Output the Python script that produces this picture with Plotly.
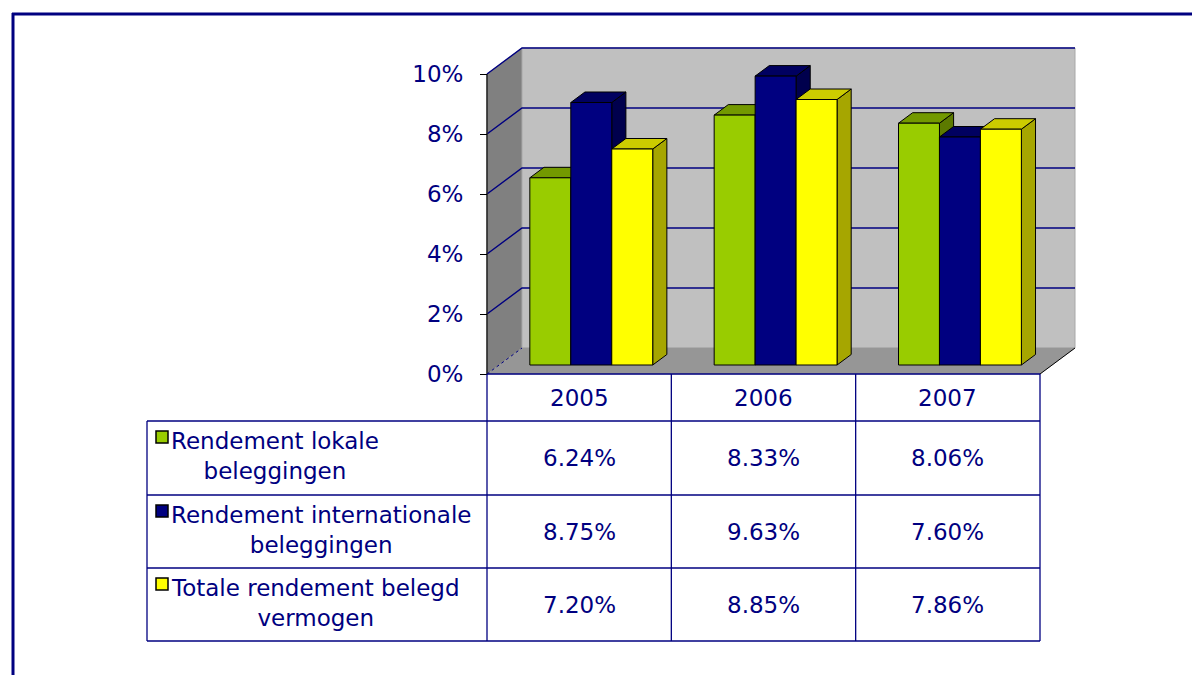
import plotly.graph_objects as go

# ---------------- data ----------------
categories = ["2005", "2006", "2007"]
series_labels = [
    "Rendement lokale<br>beleggingen",
    "Rendement internationale<br>beleggingen",
    "Totale rendement belegd<br>vermogen",
]
lokale = [6.24, 8.33, 8.06]
internationale = [8.75, 9.63, 7.60]
totale = [7.20, 8.85, 7.86]
tick_values = [0, 2, 4, 6, 8, 10]
tick_labels = ["0%", "2%", "4%", "6%", "8%", "10%"]

series_values = [lokale, internationale, totale]

# ---------------- styling / geometry ----------------
W, H = 1192, 675
X0PX, X3PX = 487, 1040      # front floor edge (pixels)
Y0PX = 374                   # 0% level (pixels)
PXY = 30.0                   # pixels per percent
CATPX = (X3PX - X0PX) / 3.0  # pixels per category
YMAX = 10

DX = 35.0 / CATPX            # depth offset, x units
DY = 26.0 / PXY              # depth offset, y units
F0, F1 = 0.346, 0.75         # bar depth span (fraction of floor depth)
GAP = 1.5
BW = 1.0 / (3 + GAP)

NAVY = "#000080"
FONT = "DejaVu Sans"
FS = 23
front_col = ["#99CC00", "#000080", "#FFFF00"]
top_col = ["#739900", "#000060", "#CCCC00"]
side_col = ["#5C7A00", "#00004D", "#A6A600"]


def px(xp):
    return xp / W


def py(yp):
    return 1 - yp / H


def poly(xs, ys, fill, lc="black", lw=1.0):
    return go.Scatter(
        x=list(xs) + [xs[0]], y=list(ys) + [ys[0]], mode="lines",
        fill="toself", fillcolor=fill, line=dict(color=lc, width=lw),
        hoverinfo="skip", showlegend=False)


traces = []
# walls and floor
traces.append(poly([0, DX, DX, 0], [0, DY, YMAX + DY, YMAX], "#808080", "#808080", 0.5))
traces.append(poly([DX, 3 + DX, 3 + DX, DX], [DY, DY, YMAX + DY, YMAX + DY], "#C0C0C0", "#A8A8A8", 1))
traces.append(poly([0, 3, 3 + DX, DX], [0, 0, DY, DY], "#969696", "#969696", 0.5))
# floor right edge
traces.append(go.Scatter(x=[3, 3 + DX], y=[0, DY], mode="lines",
                         line=dict(color="black", width=1), hoverinfo="skip", showlegend=False))

# gridlines
gx, gy = [], []
for v in tick_values[1:]:
    gx += [0, DX, 3 + DX, None]
    gy += [v, v + DY, v + DY, None]
traces.append(go.Scatter(x=gx, y=gy, mode="lines", line=dict(color=NAVY, width=1.5),
                         hoverinfo="skip", showlegend=False))
traces.append(go.Scatter(x=[0, DX], y=[0, DY], mode="lines",
                         line=dict(color=NAVY, width=1, dash="dot"),
                         hoverinfo="skip", showlegend=False))
# value axis line
traces.append(go.Scatter(x=[0, 0], y=[0, YMAX], mode="lines",
                         line=dict(color="#202020", width=1.5), hoverinfo="skip", showlegend=False))

# 3D bars
ddx = (F1 - F0) * DX
ddy = (F1 - F0) * DY
for i in range(len(categories)):
    for j, vals in enumerate(series_values):
        v = vals[i]
        x0 = i + 0.75 * BW + j * BW + F0 * DX
        x1 = x0 + BW
        y0 = F0 * DY
        y1 = v + F0 * DY
        traces.append(poly([x1, x1 + ddx, x1 + ddx, x1], [y0, y0 + ddy, y1 + ddy, y1], side_col[j]))
        traces.append(poly([x0, x1, x1 + ddx, x0 + ddx], [y1, y1, y1 + ddy, y1 + ddy], top_col[j]))
        traces.append(poly([x0, x1, x1, x0], [y0, y0, y1, y1], front_col[j]))

fig = go.Figure(traces)

# ---------------- data table ----------------
row_edges = [421, 495, 568, 641]
header_top = 374
left_px = 147
col_px = [X0PX + k * CATPX for k in range(4)]
shapes = []
line = dict(color=NAVY, width=1.3)
# header
shapes.append(dict(type="line", xref="paper", yref="paper", x0=px(X0PX), x1=px(X3PX),
                   y0=py(header_top), y1=py(header_top), line=line))
for yv in row_edges:
    shapes.append(dict(type="line", xref="paper", yref="paper", x0=px(left_px), x1=px(X3PX),
                       y0=py(yv), y1=py(yv), line=line))
for xv in col_px:
    shapes.append(dict(type="line", xref="paper", yref="paper", x0=px(xv), x1=px(xv),
                       y0=py(header_top), y1=py(row_edges[-1]), line=line))
shapes.append(dict(type="line", xref="paper", yref="paper", x0=px(left_px), x1=px(left_px),
                   y0=py(row_edges[0]), y1=py(row_edges[-1]), line=line))

# legend keys
for j in range(3):
    ktop = row_edges[j] + 10
    shapes.append(dict(type="rect", xref="paper", yref="paper", x0=px(156), x1=px(168),
                       y0=py(ktop), y1=py(ktop + 12), fillcolor=front_col[j],
                       line=dict(color="black", width=1.5)))

# outer frame
shapes.append(dict(type="line", xref="paper", yref="paper", x0=px(12), x1=1,
                   y0=py(14), y1=py(14), line=dict(color=NAVY, width=3)))
shapes.append(dict(type="line", xref="paper", yref="paper", x0=px(13), x1=px(13),
                   y0=py(13), y1=0, line=dict(color=NAVY, width=3)))

annotations = []
tfont = dict(family=FONT, size=FS, color=NAVY)
for i, c in enumerate(categories):
    annotations.append(dict(x=i + 0.5, xref="x", y=py((header_top + row_edges[0]) / 2 + 1), yref="paper",
                            text=c, showarrow=False, font=tfont, xanchor="center", yanchor="middle"))
for j, vals in enumerate(series_values):
    yc = (row_edges[j] + row_edges[j + 1]) / 2
    annotations.append(dict(x=px(169), xref="paper", y=py(yc - 2), yref="paper",
                            text=series_labels[j], showarrow=False, font=tfont,
                            xanchor="left", yanchor="middle", align="center"))
    for i, v in enumerate(vals):
        annotations.append(dict(x=i + 0.5, xref="x", y=py(yc), yref="paper",
                                text=f"{v:.2f}%", showarrow=False, font=tfont,
                                xanchor="center", yanchor="middle"))

fig.update_layout(
    width=W, height=H, autosize=False,
    margin=dict(l=0, r=0, t=0, b=0, pad=0),
    paper_bgcolor="white", plot_bgcolor="white",
    showlegend=False,
    xaxis=dict(range=[-X0PX / CATPX, (W - X0PX) / CATPX], domain=[0, 1],
               visible=False, fixedrange=True),
    yaxis=dict(range=[(Y0PX - H) / PXY, Y0PX / PXY], domain=[0, 1],
               anchor="free", position=X0PX / W,
               tickvals=tick_values, ticktext=tick_labels,
               ticks="outside", ticklen=7, tickwidth=1.2, tickcolor="black",
               ticklabelstandoff=12,
               showgrid=False, zeroline=False, showline=False, fixedrange=True,
               tickfont=dict(family=FONT, size=FS, color=NAVY)),
    shapes=shapes,
    annotations=annotations,
)

fig.write_html("out.html",
               config={"displayModeBar": False},
               post_script="document.body.style.margin='0';document.body.style.overflow='hidden';")
